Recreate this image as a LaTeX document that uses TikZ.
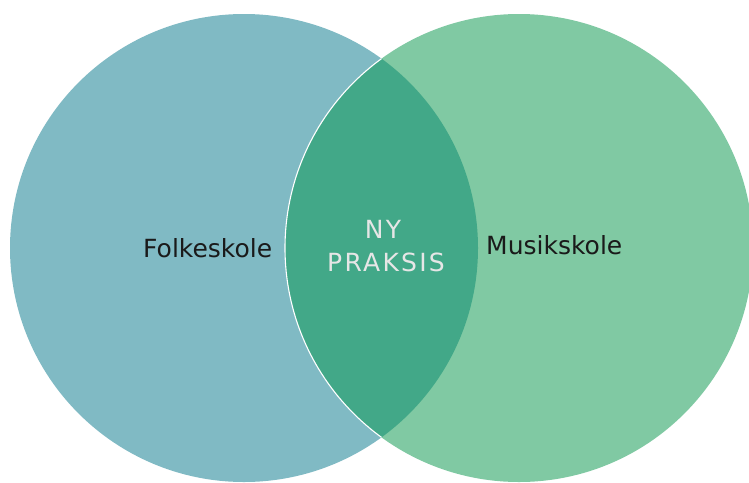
\documentclass[tikz,border=0pt]{standalone}
\usepackage{fontspec}
\setmainfont{DejaVu Sans}
\newfontfamily\spacedfont[LetterSpace=9]{DejaVu Sans}
\definecolor{lblue}{HTML}{80BAC4}
\definecolor{lgreen}{HTML}{80C9A3}
\definecolor{dgreen}{HTML}{42A888}
\definecolor{ltext}{HTML}{E6E6E6}
\definecolor{dtext}{HTML}{1A1A1A}
\tikzset{
  lbl/.style={inner sep=0pt, text=dtext, font=\fontsize{25}{30}\selectfont},
  mid/.style={inner sep=0pt, text=ltext, font=\spacedfont\fontsize{25}{30}\selectfont, anchor=base},
}
\begin{document}
\begin{tikzpicture}[x=1pt,y=-1pt]
\useasboundingbox (0,0) rectangle (749,482);
\fill[white] (0,0) rectangle (749,482);
\coordinate (cl) at (244,248);
\coordinate (cr) at (519,248);
\fill[lblue] (cl) circle (234pt);
\fill[lgreen] (cr) circle (234pt);
\begin{scope}
  \clip (cl) circle (234pt);
  \fill[dgreen] (cr) circle (234pt);
  \draw[white, line width=1.1pt] (cr) circle (234pt);
\end{scope}
\node[lbl, anchor=base west] (folk) at (143,257) {Folkeskole};
\node[lbl, anchor=base west] (musik) at (486,254) {Musikskole};
\node[mid] (ny) at (383,238) {NY};
\node[mid] (praksis) at (386,271) {PRAKSIS};
\end{tikzpicture}
\end{document}
